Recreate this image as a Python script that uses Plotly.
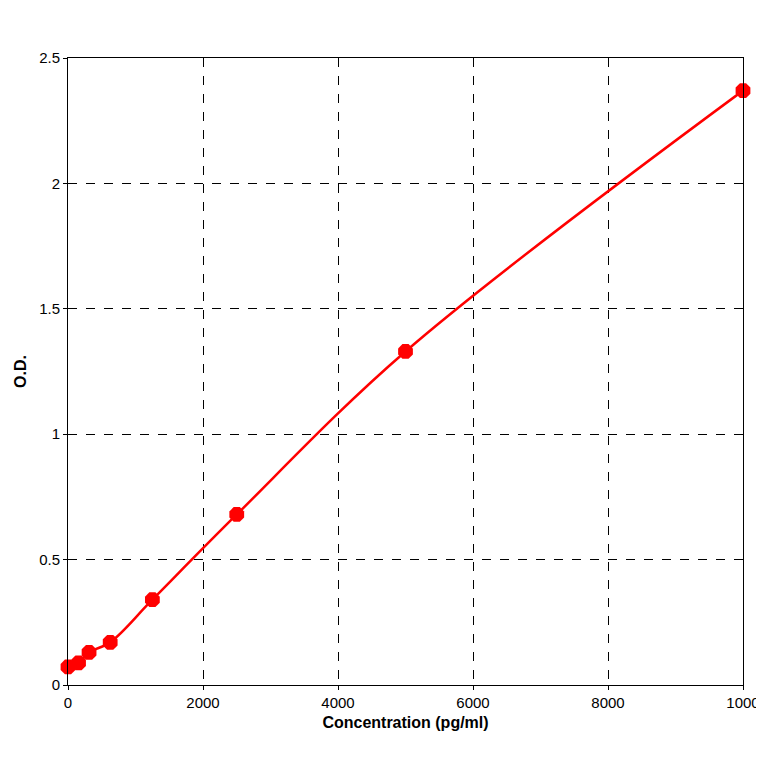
import plotly.graph_objects as go

conc = [0, 156, 312, 625, 1250, 2500, 5000, 10000]
od = [0.072, 0.088, 0.13, 0.17, 0.34, 0.68, 1.33, 2.37]
x_ticks = [0, 2000, 4000, 6000, 8000, 10000]
y_ticks = [0, 0.5, 1, 1.5, 2, 2.5]

fig = go.Figure()
fig.add_trace(go.Scatter(x=conc, y=od, mode="lines+markers", line=dict(color="#ff0000", width=2.5, shape="spline", smoothing=1.0),
                         marker=dict(symbol="octagon", size=16, color="#ff0000"), cliponaxis=False))
ax = dict(showline=True, linecolor="black", linewidth=1, mirror=True, showgrid=True, gridcolor="black",
          griddash="dash", gridwidth=1, zeroline=False, ticks="outside", ticklen=4, tickcolor="black",
          tickfont=dict(family="Liberation Sans", size=15, color="black"))
fig.update_xaxes(range=[0, 10000], tickvals=x_ticks, ticktext=["0", "2000", "4000", "6000", "8000", "1000"],
                 title=dict(text="<b>Concentration (pg/ml)</b>", font=dict(family="Liberation Sans", size=16, color="black"), standoff=6), **ax)
fig.update_yaxes(range=[0, 2.5], tickvals=y_ticks, ticktext=["0", "0.5", "1", "1.5", "2", "2.5"],
                 title=dict(text="<b>O.D.</b>", font=dict(family="Liberation Sans", size=16, color="black"), standoff=8), **ax)
fig.update_layout(width=764, height=764, plot_bgcolor="white", paper_bgcolor="white", showlegend=False,
                  margin=dict(l=55, r=29, t=50, b=87))
fig.write_html("out.html")
